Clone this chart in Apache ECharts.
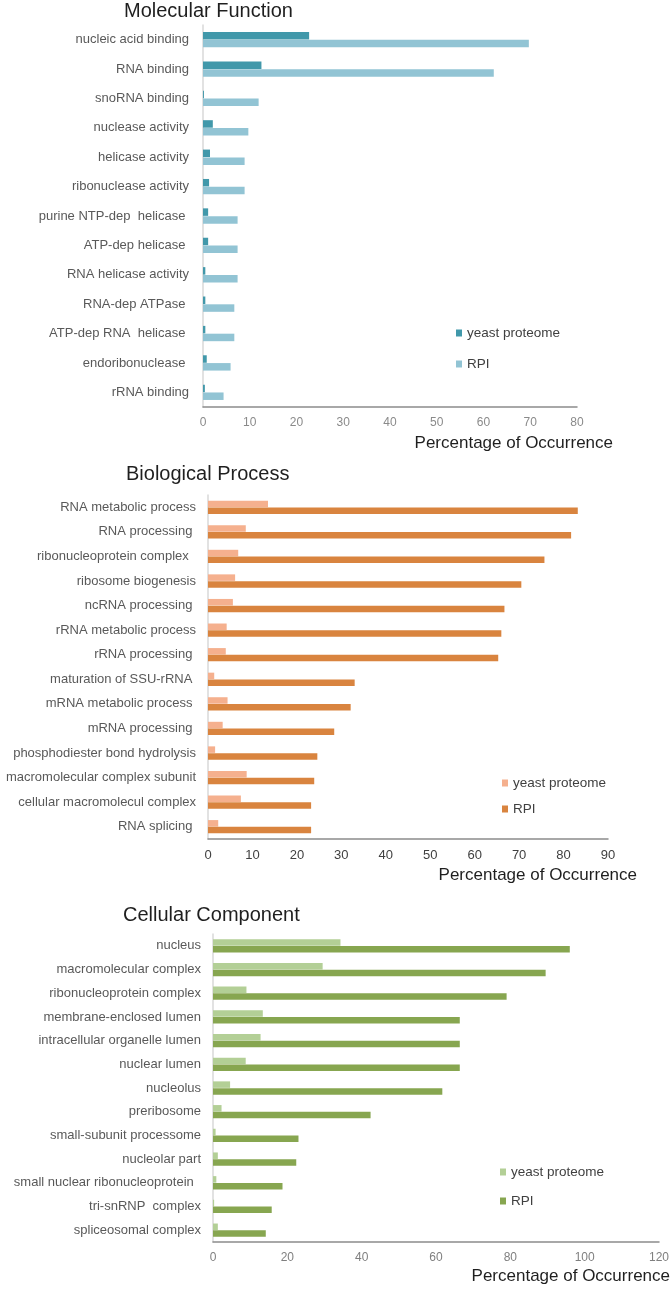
<!DOCTYPE html>
<html>
<head>
<meta charset="utf-8">
<script src="https://cdn.jsdelivr.net/npm/echarts@6/dist/echarts.min.js"></script>
<style>
html,body{margin:0;padding:0;background:#fff;}
#chart{width:672px;height:1292px;}
</style>
</head>
<body>
<div id="chart"></div>
<script>
// ---- Molecular Function ----
const mfCategories = ["nucleic acid binding","RNA binding","snoRNA binding","nuclease activity","helicase activity","ribonuclease activity","purine NTP-dep  helicase ","ATP-dep helicase ","RNA helicase activity","RNA-dep ATPase ","ATP-dep RNA  helicase ","endoribonuclease ","rRNA binding"];
const mfYeast = [22.7,12.5,0.2,2.1,1.5,1.3,1.1,1.1,0.5,0.5,0.5,0.8,0.4];
const mfRPI   = [69.7,62.2,11.9,9.7,8.9,8.9,7.4,7.4,7.4,6.7,6.7,5.9,4.4];
const mfTicks = [0,10,20,30,40,50,60,70,80];

// ---- Biological Process ----
const bpCategories = ["RNA metabolic process","RNA processing ","ribonucleoprotein complex  ","ribosome biogenesis","ncRNA processing ","rRNA metabolic process","rRNA processing ","maturation of SSU-rRNA ","mRNA metabolic process ","mRNA processing ","phosphodiester bond hydrolysis","macromolecular complex subunit","cellular macromolecul complex","RNA splicing "];
const bpYeast = [13.5,8.5,6.8,6.1,5.6,4.2,4.0,1.4,4.4,3.3,1.6,8.7,7.4,2.3];
const bpRPI   = [83.2,81.7,75.7,70.5,66.7,66.0,65.3,33.0,32.1,28.4,24.6,23.9,23.2,23.2];
const bpTicks = [0,10,20,30,40,50,60,70,80,90];

// ---- Cellular Component ----
const ccCategories = ["nucleus","macromolecular complex","ribonucleoprotein complex","membrane-enclosed lumen","intracellular organelle lumen","nuclear lumen","nucleolus","preribosome","small-subunit processome","nucleolar part","small nuclear ribonucleoprotein  ","tri-snRNP  complex","spliceosomal complex"];
const ccYeast = [34.3,29.5,9.0,13.4,12.8,8.8,4.6,2.3,0.7,1.3,0.9,0.3,1.3];
const ccRPI   = [96.0,89.5,79.0,66.4,66.4,66.4,61.7,42.4,23.0,22.4,18.7,15.8,14.2];
const ccTicks = [0,20,40,60,80,100,120];

const seriesNames = ["yeast proteome","RPI"];
const panelTitles = ["Molecular Function","Biological Process","Cellular Component"];
const axisTitle = "Percentage of Occurrence";

const FONT = '"Liberation Sans", Arial, sans-serif';
const chart = echarts.init(document.getElementById('chart'), null, {renderer:'canvas'});

function xAxisCfg(idx, ticks, labelColor, labelSize){
  return {
    gridIndex: idx, type:'value', min: ticks[0], max: ticks[ticks.length-1],
    interval: ticks[1]-ticks[0],
    axisLine:{show:true, lineStyle:{color:'#8c8c8c', width:1.5}},
    axisTick:{show:false}, splitLine:{show:false},
    axisLabel:{color:labelColor, fontSize:labelSize, fontFamily:FONT, margin:10}
  };
}
function yAxisCfg(idx, cats, margin){
  return {
    gridIndex: idx, type:'category', data: cats, inverse:true,
    axisLine:{show:true, lineStyle:{color:'#d9d9d9', width:1.5}},
    axisTick:{show:false},
    axisLabel:{color:'#595959', fontSize:13, fontFamily:FONT, margin:margin, interval:0}
  };
}
function barSeries(name, idx, data, color, w){
  return {
    name, type:'bar', xAxisIndex:idx, yAxisIndex:idx, data,
    barWidth:w, barGap:'4%', itemStyle:{color}, silent:true, animation:false
  };
}
const titleStyle = {color:'#1f1f1f', fontSize:20, fontWeight:'normal', fontFamily:FONT};
const axTitleStyle = {color:'#1f1f1f', fontSize:17, fontWeight:'normal', fontFamily:FONT};
const legendText = {color:'#404040', fontSize:13.5, fontFamily:FONT, lineHeight:14};

const option = {
  backgroundColor:'#fff',
  animation:false,
  title:[
    {text:panelTitles[0], left:124, top:1, padding:0, textStyle:titleStyle},
    {text:panelTitles[1], left:126, top:464, padding:0, textStyle:titleStyle},
    {text:panelTitles[2], left:123, top:905, padding:0, textStyle:titleStyle},
    {text:axisTitle, right:59, top:435, padding:0, textStyle:axTitleStyle},
    {text:axisTitle, right:35, top:867, padding:0, textStyle:axTitleStyle},
    {text:axisTitle, right:2, top:1268, padding:0, textStyle:axTitleStyle}
  ],
  grid:[
    {left:203, right:95, top:25, height:382},
    {left:208, right:64, top:495, height:344},
    {left:213, right:9, top:934, height:308}
  ],
  xAxis:[
    xAxisCfg(0, mfTicks, '#8a8a8a', 12),
    xAxisCfg(1, bpTicks, '#404040', 13),
    xAxisCfg(2, ccTicks, '#7f7f7f', 12)
  ],
  yAxis:[
    yAxisCfg(0, mfCategories, 14),
    yAxisCfg(1, bpCategories, 12),
    yAxisCfg(2, ccCategories, 12)
  ],
  legend:[
    {data:[{name:seriesNames[0]+' ', itemStyle:{color:'#4198aa'}},{name:seriesNames[1]+' ', itemStyle:{color:'#92c4d4'}}],
     orient:'vertical', left:456, top:326, itemWidth:6, itemHeight:7, itemGap:17, icon:'rect', padding:0, textStyle:legendText, selectedMode:false},
    {data:[{name:seriesNames[0]+'  ', itemStyle:{color:'#f5b08e'}},{name:seriesNames[1]+'  ', itemStyle:{color:'#d9843f'}}],
     orient:'vertical', left:502, top:776, itemWidth:6, itemHeight:7, itemGap:12, icon:'rect', padding:0, textStyle:legendText, selectedMode:false},
    {data:[{name:seriesNames[0]+'   ', itemStyle:{color:'#b3cf96'}},{name:seriesNames[1]+'   ', itemStyle:{color:'#87a650'}}],
     orient:'vertical', left:500, top:1165, itemWidth:6, itemHeight:7, itemGap:15, icon:'rect', padding:0, textStyle:legendText, selectedMode:false}
  ],
  series:[
    barSeries(seriesNames[0]+' ', 0, mfYeast, '#4198aa', 7.5),
    barSeries(seriesNames[1]+' ', 0, mfRPI, '#92c4d4', 7.5),
    barSeries(seriesNames[0]+'  ', 1, bpYeast, '#f5b08e', 6.5),
    barSeries(seriesNames[1]+'  ', 1, bpRPI, '#d9843f', 6.5),
    barSeries(seriesNames[0]+'   ', 2, ccYeast, '#b3cf96', 6.5),
    barSeries(seriesNames[1]+'   ', 2, ccRPI, '#87a650', 6.5)
  ]
};
chart.setOption(option);
</script>
</body>
</html>
